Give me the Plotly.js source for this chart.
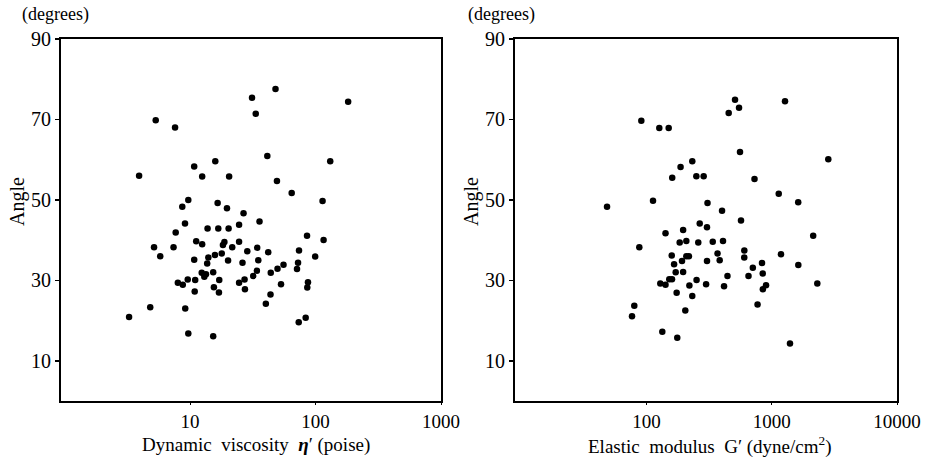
<!DOCTYPE html>
<html>
<head>
<meta charset="utf-8">
<script src="https://cdn.plot.ly/plotly-3.0.1.min.js"></script>
<style>html,body{margin:0;padding:0;background:#fff;}#chart{width:927px;height:459px;}</style>
</head>
<body>
<div id="chart"></div>
<script>
// Left panel: dynamic viscosity (poise) vs angle (degrees)
const viscosity = [3.93,5.33,7.6,10.8,12.5,15.9,20.5,31.2,33.4,48.0,41.3,49.3,64.6,113.8,131,182,
  8.68,9.69,16.6,19.7,26.7,35.8,9.12,13.8,16.8,20.3,24.6,7.69,5.17,5.79,7.39,11.2,12.5,10.8,14.0,13.7,
  15.8,17.9,18.3,18.8,21.7,24.6,20.1,28.6,26.2,34.3,42.0,35.0,34.1,31.9,44.0,49.8,55.6,85.6,116,73.9,
  99.4,72.6,71.2,12.4,13.0,13.4,15.3,17.1,8.0,8.76,9.59,11.0,10.9,15.5,17.0,24.6,27.2,27.4,53.1,87.1,
  86.0,43.8,40.2,4.82,9.16,3.27,73.5,83.5,9.69,15.3];
const angleLeft = [56.0,69.8,68.0,58.3,55.8,59.6,55.8,75.4,71.4,77.6,60.9,54.7,51.7,49.7,59.6,74.4,
  48.3,50.0,49.2,47.9,46.7,44.6,44.1,42.9,42.9,42.9,43.8,41.9,38.2,36.0,38.2,39.7,39.0,35.1,35.7,34.2,
  36.3,36.7,38.8,39.5,38.2,39.6,34.9,37.2,34.4,38.1,37.0,35.0,32.4,31.1,31.9,32.9,33.9,41.1,40.0,37.4,
  35.9,34.4,32.8,31.9,30.9,31.5,32.0,30.1,29.4,28.9,30.2,30.1,27.2,28.3,27.0,29.4,30.2,27.8,29.0,29.5,
  28.2,26.5,24.2,23.3,23.0,20.9,19.6,20.7,16.8,16.1];

// Right panel: elastic modulus (dyne/cm2) vs angle (degrees)
const modulus = [90.9,126.5,150.3,232,187,160.4,250,286,112.7,48.4,307,509,548,453,1276,558,2828,728,
  1137,1626,401,568,266,304,196,141.8,184,208,259,338,408,87.6,159,208,218,369,604,603,1185,166,192,
  304,384,836,1629,706,2142,171,196,443,652,847,128.9,141.8,152,159.8,220,251,299,416,849,900,2310,
  174,232,770,79.9,76.6,204,133.7,176,1398];
const angleRight = [69.7,67.9,67.9,59.6,58.2,55.5,55.9,55.9,49.8,48.3,49.2,74.9,72.9,71.6,74.5,61.9,
  60.1,55.2,51.5,49.4,47.3,44.9,44.1,43.2,42.5,41.7,39.4,39.8,39.4,39.6,39.8,38.2,36.2,36.0,36.0,36.7,
  37.4,35.7,36.5,34.0,34.8,34.8,35.0,34.3,33.8,33.1,41.1,32.0,32.1,31.1,31.1,31.7,29.2,28.9,30.3,30.3,
  28.7,30.1,29.0,28.5,27.8,28.8,29.2,26.9,26.1,24.0,23.7,21.1,22.5,17.2,15.7,14.3];

const yTicks = [10, 30, 50, 70, 90];
const xTicksLeft = [10, 100, 1000];
const xTicksRight = [100, 1000, 10000];

const serif = "Liberation Serif, Times New Roman, serif";
const W = 927, H = 459;
const px = v => v / W, py = v => 1 - v / H;

const markerStyle = {color: "#000", size: 6.5};
const traces = [
  {x: viscosity, y: angleLeft, type: "scatter", mode: "markers", marker: markerStyle, xaxis: "x", yaxis: "y", hoverinfo: "x+y"},
  {x: modulus, y: angleRight, type: "scatter", mode: "markers", marker: markerStyle, xaxis: "x2", yaxis: "y2", hoverinfo: "x+y"}
];

const yAxisBase = {
  range: [0, 90], tickvals: yTicks, ticktext: yTicks.map(String),
  showgrid: false, zeroline: false, showline: true, mirror: true,
  linecolor: "#000", linewidth: 2, ticks: "outside", ticklen: 4, tickwidth: 1.5, tickcolor: "#000",
  tickfont: {family: serif, size: 20, color: "#000"}, automargin: false, fixedrange: true
};
const xAxisBase = {
  type: "log", showgrid: false, zeroline: false, showline: true, mirror: true,
  linecolor: "#000", linewidth: 2, ticks: "outside", ticklen: 2, tickwidth: 1, tickcolor: "#000",
  tickfont: {family: serif, size: 19, color: "#000"}, automargin: false, fixedrange: true
};

const layout = {
  width: W, height: H,
  margin: {l: 0, r: 0, t: 0, b: 0},
  paper_bgcolor: "#fff", plot_bgcolor: "#fff",
  showlegend: false,
  xaxis: Object.assign({}, xAxisBase, {
    domain: [px(61), px(441)], range: [-0.028, 3.0],
    tickvals: xTicksLeft, ticktext: xTicksLeft.map(String), anchor: "y"
  }),
  yaxis: Object.assign({}, yAxisBase, {domain: [py(401), py(39)], anchor: "x"}),
  xaxis2: Object.assign({}, xAxisBase, {
    domain: [px(515), px(897)], range: [0.95, 4.0],
    tickvals: xTicksRight, ticktext: xTicksRight.map(String), anchor: "y2"
  }),
  yaxis2: Object.assign({}, yAxisBase, {domain: [py(401), py(39)], anchor: "x2"}),
  annotations: [
    {text: "(degrees)", xref: "paper", yref: "paper", x: px(55), y: py(15), xanchor: "center", yanchor: "middle",
     showarrow: false, font: {family: serif, size: 18, color: "#000"}},
    {text: "(degrees)", xref: "paper", yref: "paper", x: px(501), y: py(15), xanchor: "center", yanchor: "middle",
     showarrow: false, font: {family: serif, size: 18, color: "#000"}},
    {text: "Angle", xref: "paper", yref: "paper", x: px(18), y: py(202), xanchor: "center", yanchor: "middle",
     textangle: -90, showarrow: false, font: {family: serif, size: 20, color: "#000"}},
    {text: "Angle", xref: "paper", yref: "paper", x: px(472), y: py(202), xanchor: "center", yanchor: "middle",
     textangle: -90, showarrow: false, font: {family: serif, size: 20, color: "#000"}},
    {text: "Dynamic  viscosity  <b><i>η</i></b>′ (poise)", xref: "paper", yref: "paper", x: px(256), y: py(445),
     xanchor: "center", yanchor: "middle", showarrow: false, font: {family: serif, size: 19, color: "#000"}},
    {text: "Elastic  modulus  G′ (dyne/cm<sup>2</sup>)", xref: "paper", yref: "paper", x: px(710), y: py(445),
     xanchor: "center", yanchor: "middle", showarrow: false, font: {family: serif, size: 19, color: "#000"}}
  ]
};

Plotly.newPlot("chart", traces, layout, {displayModeBar: false, staticPlot: true});
</script>
</body>
</html>
